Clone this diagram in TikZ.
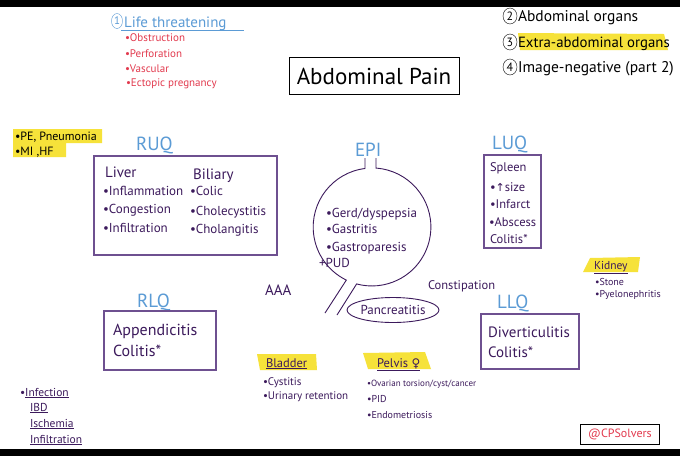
\documentclass[tikz,border=0pt]{standalone}
\usepackage{fontspec}
\setmainfont{PT Sans}
\newfontfamily\symf{DejaVu Sans}
\usetikzlibrary{shapes.geometric}
\definecolor{ptext}{HTML}{3C1A5C}
\definecolor{pbox}{HTML}{6E5090}
\definecolor{lblue}{HTML}{5B9BD5}
\definecolor{rred}{HTML}{E23A4E}
\definecolor{hyel}{HTML}{F6E23A}
\newcommand\fsz[1]{\fontsize{#1}{#1}\selectfont}
\begin{document}
\begin{tikzpicture}[x=1pt,y=-1pt,
  every node/.style={inner sep=0pt,outer sep=0pt,anchor=base west},
  txt/.style={text=ptext},
  lbl/.style={text=lblue,font=\fsz{19}},
  qbox/.style={draw=pbox,line width=1.1pt},
  hl/.style={fill=hyel},
  num/.style={draw,ellipse,minimum width=11pt,minimum height=15pt,inner sep=0pt,anchor=center,font=\fsz{11}},
  red/.style={text=rred,font=\fsz{11}},
  stom/.style={draw=ptext,line width=0.9pt}]
\useasboundingbox (0,0) rectangle (680,456);
\fill[white] (0,0) rectangle (680,456);
\fill[black] (0,0) rectangle (680,7);
\fill[black] (0,449) rectangle (680,456);

% highlights
\fill[hyel] (518,33) -- (664,34) -- (668,50) -- (520,50) -- cycle;
\fill[hyel] (13,129) -- (102,129) -- (102,143) -- (66,143) -- (66,157) -- (13,157) -- cycle;
\fill[hyel] (590,258) -- (640,257) -- (638,272) -- (583,272) -- cycle;
\fill[hyel] (257,354) -- (316,354) -- (317,370) -- (260,370) -- cycle;
\fill[hyel] (363,353) -- (425,352) -- (431,369) -- (368,369) -- cycle;

% 1 Life threatening
\node[num,draw=lblue,text=lblue] (n1) at (117,21) {1};
\node[text=lblue,font=\fsz{15}] (life) at (124,27) {Life threatening};
\draw[lblue,line width=0.8pt] (121,30) -- (244,30);
\node[red] (r1) at (125,41) {•Obstruction};
\node[red] (r2) at (125,57) {•Perforation};
\node[red] (r3) at (125,72) {•Vascular};
\node[red] (r4) at (126,86) {•Ectopic pregnancy};

% top right list
\node[num,minimum width=14pt,minimum height=16pt,font=\fsz{12}] (n2) at (510,16) {2};
\node[font=\fsz{15.5}] (t2) at (518,21) {Abdominal organs};
\node[num,minimum width=14pt,minimum height=16pt,font=\fsz{12}] (n3) at (510,42) {3};
\node[font=\fsz{14.8}] (t3) at (518,47) {Extra-abdominal organs};
\node[num,minimum width=14pt,minimum height=16pt,font=\fsz{12}] (n4) at (510,67) {4};
\node[font=\fsz{15.5}] (t4) at (518,72) {Image-negative (part 2)};

% title
\node[draw,line width=0.9pt,anchor=center,minimum width=170pt,minimum height=37pt,font=\fsz{23}] (title) at (374,76) {Abdominal Pain};

% PE / MI
\node[font=\fsz{12}] (pe) at (15,140) {•PE, Pneumonia};
\node[font=\fsz{12}] (mi) at (15,155) {•MI ,HF};

% RUQ
\node[lbl] (ruq) at (136,150) {RUQ};
\draw[qbox] (94,156) rectangle (277,255);
\node[txt,font=\fsz{15}] (liver) at (105,177) {Liver};
\node[txt,font=\fsz{15}] (bil) at (193,179) {Biliary};
\node[txt,font=\fsz{13}] (l1) at (103,195) {•Inflammation};
\node[txt,font=\fsz{13}] (l2) at (103,213) {•Congestion};
\node[txt,font=\fsz{13}] (l3) at (103,232) {•Infiltration};
\node[txt,font=\fsz{13}] (b1) at (190,195) {•Colic};
\node[txt,font=\fsz{13}] (b2) at (190,215) {•Cholecystitis};
\node[txt,font=\fsz{13}] (b3) at (190,233) {•Cholangitis};

% EPI stomach
\node[lbl] (epi) at (355,156) {EPI};
\draw[stom] (376,158) -- (376,168.1) arc[start angle=-86,end angle=105,radius=59] -- (337,315);
\draw[stom] (365,158) -- (365,168.5) arc[start angle=-97,end angle=-244,radius=59] -- (325,313);
\node[txt,font=\fsz{13}] (s1) at (326,217) {•Gerd/dyspepsia};
\node[txt,font=\fsz{13}] (s2) at (326,233) {•Gastritis};
\node[txt,font=\fsz{13}] (s3) at (326,251) {•Gastroparesis};
\node[txt,font=\fsz{13}] (s4) at (319,267) {+PUD};
\node[draw=ptext,line width=0.9pt,ellipse,anchor=center,minimum width=92pt,minimum height=25pt,text=ptext,font=\fsz{13}] (panc) at (393,310) {Pancreatitis};
\node[txt,font=\fsz{12.5}] (const) at (428,289) {Constipation};
\node[txt,font=\fsz{15}] (aaa) at (265,295) {AAA};

% LUQ
\node[lbl] (luq) at (492,149) {LUQ};
\draw[qbox] (484,155) rectangle (541,248);
\node[txt,font=\fsz{12.5}] (u1) at (490,171) {Spleen};
\node[txt,font=\fsz{12.5}] (u2) at (490,191) {•{\symf\fsz{11}↑}size};
\node[txt,font=\fsz{12.5}] (u3) at (490,208) {•Infarct};
\node[txt,font=\fsz{12.5}] (u4) at (489,226) {•Abscess};
\node[txt,font=\fsz{12.5}] (u5) at (490,243) {Colitis*};

% Kidney
\node[txt,font=\fsz{11.5}] (kid) at (594,269) {\underline{Kidney}};
\node[txt,font=\fsz{10}] (k1) at (595,285) {•Stone};
\node[txt,font=\fsz{10}] (k2) at (595,297) {•Pyelonephritis};

% RLQ
\node[lbl] (rlq) at (137,307) {RLQ};
\draw[qbox] (104,311) rectangle (216,370);
\node[txt,font=\fsz{16}] (a1) at (113,335) {Appendicitis};
\node[txt,font=\fsz{16}] (a2) at (113,356) {Colitis*};

% LLQ
\node[lbl] (llq) at (497,308) {LLQ};
\draw[qbox] (481,314) rectangle (579,369);
\node[txt,font=\fsz{15}] (d1) at (488,337) {Diverticulitis};
\node[txt,font=\fsz{15}] (d2) at (488,357) {Colitis*};

% Bladder
\node[txt,font=\fsz{12.5}] (blad) at (266,367) {\underline{Bladder}};
\node[txt,font=\fsz{11}] (bl1) at (263,385) {•Cystitis};
\node[txt,font=\fsz{11}] (bl2) at (263,399) {•Urinary retention};

% Pelvis
\node[txt,font=\fsz{12.5}] (pelv) at (377,367) {\underline{Pelvis {\symf\fsz{12}♀}}};
\node[txt,font=\fsz{9}] (p1) at (367,386) {•Ovarian torsion/cyst/cancer};
\node[txt,font=\fsz{10}] (p2) at (367,402) {•PID};
\node[txt,font=\fsz{10}] (p3) at (367,418) {•Endometriosis};

% bottom left
\node[txt,font=\fsz{11.5}] (i1) at (20,396) {•\underline{Infection}};
\node[txt,font=\fsz{11.5}] (i2) at (30,411) {\underline{IBD}};
\node[txt,font=\fsz{11.5}] (i3) at (30,427) {\underline{Ischemia}};
\node[txt,font=\fsz{11.5}] (i4) at (30,443) {\underline{Infiltration}};

% CPSolvers
\node[draw,line width=0.8pt,anchor=center,minimum width=79pt,minimum height=20pt,text=rred,font=\fsz{12}] (cps) at (620,434) {@CPSolvers};
\end{tikzpicture}
\end{document}
